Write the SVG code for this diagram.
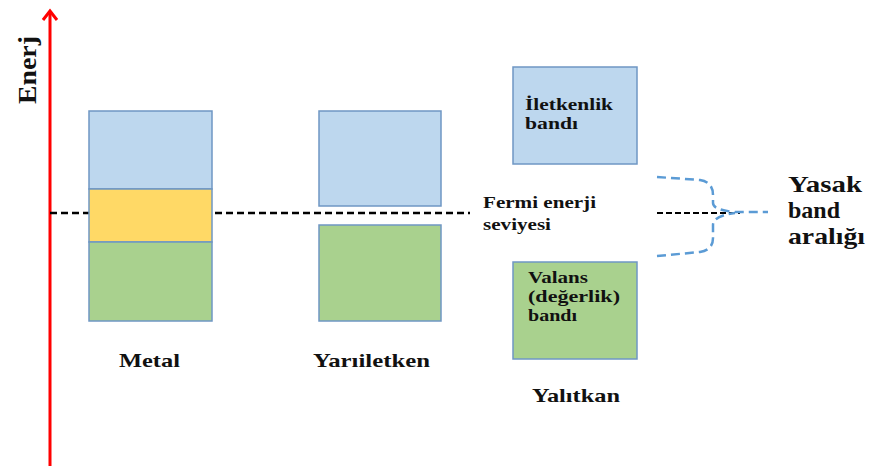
<svg xmlns="http://www.w3.org/2000/svg" width="871" height="466" viewBox="0 0 871 466">
<style>
.t{font-family:"Liberation Serif","Times New Roman",serif;font-weight:bold;fill:#111}
.cb{fill:#bdd7ee;stroke:#6f97c4;stroke-width:1.5}
.vb{fill:#a9d18e;stroke:#6f97c4;stroke-width:1.5}
.fb{fill:#ffd966;stroke:#6f97c4;stroke-width:1.5}
.brace{fill:none;stroke:#5b9bd5;stroke-width:2.5;stroke-dasharray:9,5}
</style>
<rect width="871" height="466" fill="#fff"/>
<g id="connectors">
<line x1="50" y1="466" x2="50" y2="11" stroke="#ff0000" stroke-width="3"/>
<polyline points="43,20 50,11 57,20" fill="none" stroke="#ff0000" stroke-width="3"/>
<line x1="50" y1="213" x2="470" y2="213" stroke="#000" stroke-width="2.5" stroke-dasharray="7,4"/>
<line x1="657" y1="213" x2="740" y2="213" stroke="#000" stroke-width="2" stroke-dasharray="6,3"/>
<path class="brace" d="M657,177 L700,180 Q713,182 713,195 L713,203 Q713,210 735,212 L768,212"/>
<path class="brace" d="M657,256 L700,252 Q713,250 713,238 L713,225 Q713,216 735,213"/>
</g>
<g id="axis-label"><text class="t" font-family="Liberation Serif, serif" font-size="25" transform="translate(36,70) rotate(-90)" text-anchor="middle" textLength="68" lengthAdjust="spacingAndGlyphs">Enerj</text></g>
<g id="metal">
<rect class="cb" x="89" y="111" width="123" height="78"/>
<rect class="fb" x="89" y="189" width="123" height="53"/>
<rect class="vb" x="89" y="242" width="123" height="79"/>
<text class="t" font-family="Liberation Serif, serif" font-size="19" x="119" y="367" textLength="61" lengthAdjust="spacingAndGlyphs">Metal</text>
</g>
<g id="yariiletken">
<rect class="cb" x="319" y="111" width="122" height="95"/>
<rect class="vb" x="319" y="225" width="122" height="96"/>
<text class="t" font-family="Liberation Serif, serif" font-size="19" x="313" y="367" textLength="117" lengthAdjust="spacingAndGlyphs">Yarıiletken</text>
</g>
<g id="yalitkan">
<rect class="cb" x="513" y="67" width="124" height="97"/>
<text class="t" font-family="Liberation Serif, serif" font-size="16.5" x="525" y="110" textLength="88" lengthAdjust="spacingAndGlyphs">İletkenlik</text>
<text class="t" font-family="Liberation Serif, serif" font-size="16.5" x="525" y="129" textLength="53" lengthAdjust="spacingAndGlyphs">bandı</text>
<rect class="vb" x="513" y="262" width="124" height="97"/>
<text class="t" font-family="Liberation Serif, serif" font-size="16.5" x="528" y="283" textLength="60" lengthAdjust="spacingAndGlyphs">Valans</text>
<text class="t" font-family="Liberation Serif, serif" font-size="16.5" x="528" y="302" textLength="92" lengthAdjust="spacingAndGlyphs">(değerlik)</text>
<text class="t" font-family="Liberation Serif, serif" font-size="16.5" x="528" y="321" textLength="49" lengthAdjust="spacingAndGlyphs">bandı</text>
<text class="t" font-family="Liberation Serif, serif" font-size="19" x="532" y="402" textLength="88" lengthAdjust="spacingAndGlyphs">Yalıtkan</text>
</g>
<g id="fermi">
<text class="t" font-family="Liberation Serif, serif" font-size="17" x="483" y="208" textLength="113" lengthAdjust="spacingAndGlyphs">Fermi enerji</text>
<text class="t" font-family="Liberation Serif, serif" font-size="17" x="483" y="230" textLength="68" lengthAdjust="spacingAndGlyphs">seviyesi</text>
</g>
<g id="yasak">
<text class="t" font-family="Liberation Serif, serif" font-size="24" x="788" y="192" textLength="74" lengthAdjust="spacingAndGlyphs">Yasak</text>
<text class="t" font-family="Liberation Serif, serif" font-size="24" x="788" y="218" textLength="52" lengthAdjust="spacingAndGlyphs">band</text>
<text class="t" font-family="Liberation Serif, serif" font-size="24" x="788" y="244" textLength="77" lengthAdjust="spacingAndGlyphs">aralığı</text>
</g>
</svg>
